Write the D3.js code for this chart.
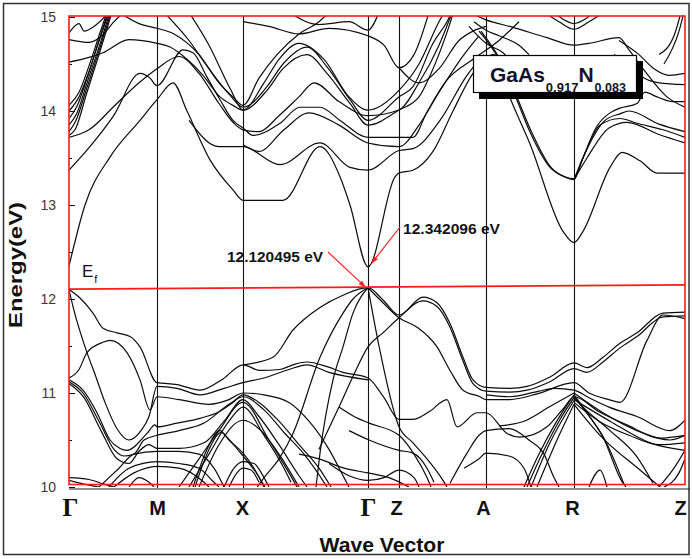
<!DOCTYPE html>
<html><head><meta charset="utf-8">
<script src="https://cdn.jsdelivr.net/npm/d3@7/dist/d3.min.js"></script>
<style>
html,body{margin:0;padding:0;background:#fff;}
svg{display:block;font-family:Arial,"Liberation Sans",sans-serif;}
</style></head>
<body><svg id="c" width="692" height="559"></svg>
<script>
// ---------------- DATA ----------------
const kTicks = [0, 0.88, 1.74, 2.99, 3.30, 4.17, 5.05, 6.16];
const kLabels = ["Γ", "M", "X", "Γ", "Z", "A", "R", "Z"];
const yTicks = [10, 11, 12, 13, 14, 15];
const yMinorTicks = [10.5, 11.5, 12.5, 13.5, 14.5];
const fermiLine = [[0, 12.105], [6.16, 12.15]];
const vbm = {k: 2.99, e: 12.120495, label: "12.120495 eV"};
const cbm = {k: 2.99, e: 12.342096, label: "12.342096 eV"};
const compound = {base1: "GaAs", sub1: "0.917", base2: "N", sub2: "0.083"};

// conduction bands: [k, E(eV)]
const cbBands = [
 [[0,12.35],[0.16,13.0],[0.41,13.51],[0.71,13.9],[0.88,14.12],[1.04,14.3],[1.18,14.0],[1.41,13.48],[1.64,13.16],[1.74,13.05],[2.14,13.05],[2.51,13.62],[2.71,13.3],[2.81,13.0],[2.99,12.342],[3.26,13.3],[3.30,13.34],[3.44,13.37],[3.64,13.57],[3.84,14.0],[4.04,14.4],[4.25,14.6],[4.41,14.14],[4.61,13.65],[4.94,12.72],[5.05,12.6],[5.14,12.72],[5.41,13.4],[5.53,13.56],[5.71,13.47],[5.88,13.34],[6.16,13.34]],
 [[0,13.37],[0.24,13.66],[0.44,13.94],[0.71,14.4],[0.81,14.35],[0.88,14.27],[1.14,14.65],[1.24,14.62],[1.38,14.36],[1.51,14.12],[1.64,13.9],[1.74,13.82],[1.84,13.74],[2.11,13.87],[2.31,14.04],[2.51,14.04],[2.71,13.9],[2.99,13.72],[3.30,13.72],[3.44,13.72],[3.58,13.99],[3.78,14.33],[4.04,14.55],[4.3,14.75],[4.5,14.95]],
 [[0,13.72],[0.2,13.8],[0.45,14.05],[0.7,14.3],[0.88,14.45],[1.1,14.58],[1.3,14.4],[1.5,14.08],[1.64,13.88],[1.74,13.8],[1.9,13.78],[2.1,13.95],[2.3,14.15],[2.45,14.3],[2.7,14.1],[2.99,13.95],[3.3,14.01],[3.5,14.3],[3.7,14.7],[3.85,15.1]],
 [[0,13.74],[0.06,13.8],[0.18,14.2],[0.3,14.6],[0.43,15.05]],
 [[0,13.78],[0.07,13.9],[0.18,14.25],[0.3,14.64],[0.42,15.05]],
 [[0,13.85],[0.08,13.98],[0.18,14.3],[0.3,14.68],[0.41,15.05]],
 [[0,13.92],[0.08,14.05],[0.18,14.35],[0.28,14.68],[0.4,15.05]],
 [[0,14.0],[0.1,14.15],[0.2,14.42],[0.3,14.75],[0.39,15.05]],
 [[0,14.06],[0.1,14.2],[0.2,14.48],[0.3,14.8],[0.38,15.05]],
 [[0,14.52],[0.2,14.57],[0.34,14.62],[0.6,14.76],[0.88,14.72],[1.01,14.68],[1.18,14.55],[1.34,14.38],[1.51,14.15],[1.64,14.06],[1.74,14.01],[1.98,14.22],[2.14,14.45],[2.38,14.6],[2.58,14.4],[2.81,14.08],[2.99,13.85],[3.3,14.01],[3.5,14.15],[3.62,14.4],[3.8,14.9],[3.86,15.1]],
 [[0,14.83],[0.1,14.93],[0.15,14.85],[0.25,14.9],[0.4,15.05]],
 [[0,14.76],[0.2,14.73],[0.33,14.8],[0.45,14.95],[0.55,15.05]],
 [[0.5,15.05],[0.7,14.93],[0.88,14.88],[1.05,14.82],[1.3,14.6],[1.5,14.3],[1.64,14.15],[1.74,14.06],[1.9,14.35],[2.08,14.6],[2.3,14.82],[2.5,14.95],[2.6,15.05]],
 [[0.95,15.05],[1.2,14.75],[1.4,14.45],[1.6,14.18],[1.74,14.04],[1.98,14.26],[2.14,14.5],[2.38,14.68],[2.58,14.47],[2.81,14.12],[2.99,13.9],[3.3,14.15],[3.44,14.26],[3.64,14.72],[3.78,14.95],[3.85,15.1]],
 [[1.2,15.05],[1.4,14.7],[1.62,14.22],[1.74,14.01],[1.95,14.3],[2.1,14.55],[2.3,14.72],[2.55,14.55],[2.8,14.15],[2.99,14.01],[3.3,14.22],[3.5,14.5],[3.7,14.95],[3.78,15.1]],
 [[1.74,14.95],[2.0,14.9],[2.3,14.82],[2.6,14.88],[2.99,14.8],[3.15,14.7],[3.3,14.46],[3.45,14.6],[3.6,15.05]],
 [[2.2,15.05],[2.5,14.92],[2.8,14.95],[2.99,14.86],[3.1,15.05]],
 [[1.2,13.9],[1.5,13.62],[1.74,13.62],[2.11,13.43],[2.51,13.66],[2.81,13.4],[2.99,13.37],[3.3,13.58],[3.44,13.6],[3.71,13.9],[3.98,14.38],[4.15,14.6]],
 [[1.74,13.64],[1.9,13.57],[2.15,13.8],[2.4,13.98],[2.7,13.85],[2.99,13.66],[3.3,13.62],[3.5,13.85],[3.7,14.2],[3.95,14.6],[4.1,14.8]],
 [[4.0,15.05],[4.17,14.97],[4.44,14.89],[4.78,14.78],[5.05,14.7],[5.2,14.72],[5.5,14.78],[5.6,14.65],[5.74,14.45],[5.98,14.15],[6.16,14.04]],
 [[4.0,14.9],[4.17,14.72],[4.34,14.62],[4.45,14.5]],
 [[4.05,14.95],[4.17,14.86],[4.3,14.8],[4.5,14.7],[4.6,14.6]],
 [[4.75,15.05],[4.9,14.95],[5.05,14.87],[5.2,14.95],[5.35,15.05]],
 [[4.85,15.05],[4.95,14.97],[5.05,14.93],[5.15,14.97],[5.25,15.05]],
 [[4.1,14.85],[4.3,14.55],[4.47,14.14],[4.6,13.8],[4.81,13.4],[4.95,13.3],[5.05,13.27],[5.12,13.45],[5.28,13.84],[5.41,13.98],[5.51,14.03],[5.68,14.08],[5.76,14.2],[5.88,14.15],[6.04,14.1],[6.16,14.1]],
 [[4.12,14.85],[4.32,14.53],[4.49,14.12],[4.62,13.79],[4.82,13.4],[4.96,13.3],[5.05,13.28],[5.14,13.5],[5.31,13.85],[5.51,13.92],[5.68,13.87],[5.94,13.8],[6.16,13.72]],
 [[5.05,13.27],[5.16,13.55],[5.36,13.9],[5.51,13.97],[5.6,14.0],[5.9,13.86],[6.16,13.78]],
 [[5.05,13.27],[5.18,13.5],[5.4,13.82],[5.58,13.88],[5.9,13.75],[6.16,13.66]],
 [[5.45,14.6],[5.6,14.5],[5.75,14.35],[5.9,14.3],[6.16,14.28]],
 [[5.5,14.75],[5.7,14.6],[5.85,14.45],[6.0,14.38],[6.16,14.4]],
 [[5.9,14.6],[6.05,14.8],[6.12,15.05]],
 [[5.95,14.5],[6.1,14.85],[6.15,15.05]],
 [[3.3,14.46],[3.5,14.3],[3.7,14.45],[3.9,14.75],[4.04,14.85],[4.17,14.9]]
];

// valence bands: [k, E(eV)]
const vbBands = [
 [[1.74,11.3],[2.04,11.38],[2.24,11.67],[2.51,11.91],[2.74,12.04],[2.99,12.12],[3.14,11.99],[3.30,11.83],[3.54,12.02],[3.68,11.96],[3.81,11.74],[3.94,11.38],[4.04,11.14],[4.17,11.06],[4.41,11.05],[4.58,11.07],[4.81,11.17],[5.05,11.32],[5.18,11.27],[5.34,11.38],[5.51,11.53],[5.68,11.64],[5.94,11.85],[6.16,11.86]],
 [[2.5,10.4],[2.7,10.85],[2.85,11.2],[2.99,11.49],[3.15,11.65],[3.30,11.8],[3.54,11.98],[3.68,11.92],[3.81,11.7],[3.94,11.34],[4.04,11.1],[4.17,11.02],[4.41,11.01],[4.58,11.03],[4.81,11.12],[5.05,11.26],[5.18,11.22],[5.34,11.33],[5.51,11.48],[5.68,11.6],[5.94,11.81],[6.16,11.82]],
 [[2.99,12.12],[3.14,11.96],[3.30,11.8],[3.48,11.7],[3.68,11.49],[3.81,11.24],[3.94,11.03],[4.11,10.96],[4.17,10.93],[4.41,10.93],[4.68,10.99],[5.05,11.11],[5.2,11.0],[5.4,10.93],[5.51,10.9],[5.78,11.56],[5.94,11.83],[6.16,11.79]],
 [[0,12.1],[0.11,12.01],[0.24,11.85],[0.34,11.69],[0.48,11.64],[0.61,11.6],[0.71,11.49],[0.88,11.11],[1.08,11.09],[1.31,11.03],[1.54,11.15],[1.74,11.3],[1.91,11.24],[2.11,11.25],[2.24,11.3],[2.38,11.33],[2.58,11.28],[2.74,11.22],[2.99,11.16],[3.15,10.95],[3.3,10.72],[3.44,10.72],[3.6,10.8],[3.78,10.93],[3.88,10.64],[4.08,10.79],[4.17,10.79],[4.38,10.57],[4.51,10.53],[4.78,10.64],[4.94,10.83],[5.05,10.96],[5.3,10.8],[5.6,10.65],[5.9,10.52],[6.16,10.55]],
 [[0,12.1],[0.04,11.92],[0.18,11.43],[0.26,11.2],[0.36,10.9],[0.48,10.62],[0.6,10.5],[0.72,10.6],[0.8,10.75],[0.88,11.07],[1.08,11.05],[1.31,10.98],[1.55,11.05],[1.74,11.11],[1.95,11.16],[2.2,11.25],[2.38,11.3],[2.6,11.22],[2.99,11.14]],
 [[0,11.16],[0.1,11.25],[0.18,11.43],[0.34,11.54],[0.41,11.56],[0.58,11.43],[0.71,11.14],[0.81,10.82],[0.88,10.96],[1.1,10.93],[1.4,10.88],[1.6,10.93],[1.74,11.0],[1.95,10.98],[2.2,10.9],[2.4,10.7],[2.6,10.4],[2.75,10.1],[2.8,10.0]],
 [[0,11.14],[0.14,11.03],[0.28,10.79],[0.41,10.5],[0.51,10.41],[0.58,10.39],[0.78,10.57],[0.86,10.66],[0.88,10.64],[1.08,10.68],[1.31,10.73],[1.5,10.8],[1.64,10.9],[1.74,10.98],[1.9,10.9],[2.1,10.7],[2.3,10.45],[2.5,10.2],[2.62,10.0]],
 [[0,11.12],[0.14,11.0],[0.3,10.7],[0.45,10.4],[0.55,10.33],[0.65,10.35],[0.75,10.5],[0.88,10.55],[1.1,10.6],[1.35,10.68],[1.6,10.88],[1.74,10.96],[1.95,10.82],[2.15,10.58],[2.35,10.35],[2.55,10.05],[2.58,10.0]],
 [[0,11.1],[0.15,10.95],[0.32,10.6],[0.48,10.3],[0.6,10.25],[0.7,10.38],[0.8,10.45],[0.88,10.41],[1.1,10.41],[1.35,10.47],[1.55,10.7],[1.74,10.93],[1.9,10.75],[2.1,10.45],[2.3,10.12],[2.38,10.0]],
 [[1.1,10.0],[1.3,10.3],[1.5,10.6],[1.74,10.9],[2.0,10.5],[2.2,10.15],[2.28,10.0]],
 [[1.2,10.0],[1.4,10.35],[1.6,10.7],[1.74,10.85],[1.95,10.55],[2.15,10.2],[2.22,10.05]],
 [[1.3,10.0],[1.5,10.45],[1.74,10.71],[1.9,10.62],[2.1,10.35],[2.3,10.0]],
 [[1.24,10.0],[1.38,10.4],[1.51,10.6],[1.6,10.5],[1.74,10.36],[1.85,10.2],[1.95,10.0]],
 [[1.26,10.0],[1.4,10.4],[1.52,10.58],[1.62,10.48],[1.74,10.33],[1.86,10.17],[1.96,10.0]],
 [[1.55,10.0],[1.65,10.2],[1.74,10.27],[1.85,10.25],[1.95,10.1],[2.0,10.0]],
 [[1.6,10.0],[1.68,10.15],[1.74,10.2],[1.82,10.18],[1.9,10.05]],
 [[0.3,10.0],[0.5,10.2],[0.65,10.35],[0.88,10.38],[1.1,10.38],[1.3,10.35],[1.45,10.2],[1.55,10.0]],
 [[0.4,10.0],[0.6,10.2],[0.88,10.27],[1.1,10.25],[1.3,10.2],[1.45,10.05],[1.5,10.0]],
 [[0.45,10.0],[0.65,10.15],[0.88,10.22],[1.1,10.2],[1.35,10.05],[1.4,10.0]],
 [[0,10.1],[0.2,10.08],[0.35,10.03],[0.45,10.0]],
 [[0,10.07],[0.15,10.03],[0.3,10.0]],
 [[0.6,10.0],[0.7,10.1],[0.8,10.05],[0.85,10.0]],
 [[1.85,9.95],[1.95,10.1],[2.1,10.3],[2.24,10.57],[2.51,11.38],[2.74,11.85],[2.84,12.0],[2.99,12.12]],
 [[2.47,10.0],[2.51,10.36],[2.64,11.14],[2.74,11.49],[2.84,11.85],[2.99,12.12]],
 [[2.99,12.12],[3.1,11.5],[3.30,10.64],[3.44,10.47],[3.61,10.26],[3.74,10.07],[3.78,10.0]],
 [[2.7,10.85],[2.85,10.75],[3.0,10.68],[3.30,10.55],[3.45,10.35],[3.58,10.1],[3.62,10.0]],
 [[2.8,10.6],[3.0,10.5],[3.30,10.39],[3.44,10.36],[3.58,10.2],[3.65,10.05]],
 [[2.3,10.35],[2.5,10.3],[2.75,10.2],[2.99,10.15],[3.2,10.1],[3.4,10.0]],
 [[2.6,10.25],[2.8,10.12],[2.99,10.07],[3.15,10.1],[3.3,10.18],[3.45,10.1],[3.5,10.0]],
 [[3.81,10.04],[3.98,10.36],[4.1,10.55],[4.17,10.6],[4.4,10.62],[4.6,10.5],[4.75,10.35],[4.85,10.1],[4.9,10.0]],
 [[4.17,10.98],[4.41,10.96],[4.7,11.02],[4.85,11.05],[5.05,11.03],[5.2,10.95],[5.4,10.85],[5.68,10.75],[6.01,10.6],[6.16,10.71]],
 [[3.95,10.2],[4.1,10.3],[4.17,10.36],[4.4,10.33],[4.55,10.2],[4.62,10.0]],
 [[4.55,10.0],[4.7,10.35],[4.85,10.65],[5.05,10.98]],
 [[4.58,10.0],[4.73,10.35],[4.9,10.7],[5.05,10.95]],
 [[4.62,10.0],[4.8,10.45],[5.05,10.92]],
 [[4.68,10.0],[4.88,10.5],[5.05,10.88]],
 [[4.3,10.65],[4.55,10.7],[4.8,10.85],[5.05,11.0]],
 [[5.05,10.98],[5.18,10.79],[5.34,10.53],[5.54,10.04],[5.57,10.0]],
 [[5.05,10.96],[5.19,10.77],[5.36,10.5],[5.55,10.03]],
 [[5.05,10.95],[5.14,10.85],[5.41,10.6],[5.68,10.32],[5.84,10.04]],
 [[5.05,11.0],[5.34,10.79],[5.68,10.6],[6.01,10.5],[6.16,10.55]],
 [[5.05,10.93],[5.41,10.7],[5.81,10.47],[6.16,10.39]],
 [[5.05,10.88],[5.31,10.55],[5.71,10.18],[5.91,10.0]],
 [[5.05,10.9],[5.3,10.7],[5.6,10.55],[5.9,10.45],[6.16,10.47]],
 [[5.2,10.0],[5.31,10.18],[5.38,10.0]],
 [[5.9,10.0],[6.05,10.2],[6.16,10.39]],
 [[5.95,10.0],[6.1,10.15],[6.16,10.3]]
];

// ---------------- LAYOUT ----------------
const W = 692, H = 559;
const P = {left: 69, right: 685, top: 17, bottom: 487};
const labelNudge = [1, 0, -1, 0, -3, -3, -2, -5];

const svg = d3.select("#c");
const x = d3.scaleLinear().domain([0, 6.16]).range([P.left, P.right]);
const y = d3.scaleLinear().domain([10, 15]).range([P.bottom, P.top]);

// outer border
svg.append("rect").attr("x", 3.5).attr("y", 3.5).attr("width", 685.5).attr("height", 551)
  .attr("fill", "#fff").attr("stroke", "#333").attr("stroke-width", 1.5);

const defs = svg.append("defs");
defs.append("clipPath").attr("id", "clip").append("rect")
  .attr("x", P.left).attr("y", P.top - 1).attr("width", P.right - P.left).attr("height", P.bottom - P.top + 1);
defs.append("marker").attr("id", "arr").attr("viewBox", "0 0 10 10").attr("refX", 9).attr("refY", 5)
  .attr("markerWidth", 8).attr("markerHeight", 7).attr("orient", "auto-start-reverse")
  .attr("markerUnits", "userSpaceOnUse")
  .append("path").attr("d", "M0,1.5 L10,5 L0,8.5 Z").attr("fill", "#ff2020");

// high-symmetry vertical lines
svg.append("g").selectAll("line").data(kTicks.slice(1, -1)).join("line")
  .attr("x1", d => Math.round(x(d)) + 0.5).attr("x2", d => Math.round(x(d)) + 0.5)
  .attr("y1", P.top - 1).attr("y2", P.bottom + 1)
  .attr("stroke", "#111").attr("stroke-width", 1.1);

// bands
const line = d3.line().x(d => x(d[0])).y(d => y(d[1])).curve(d3.curveMonotoneX);
const bg = svg.append("g").attr("clip-path", "url(#clip)");
bg.selectAll("path.cb").data(cbBands).join("path").attr("class", "cb")
  .attr("d", line).attr("fill", "none").attr("stroke", "#0c0c0c").attr("stroke-width", 1.2);
bg.selectAll("path.vb").data(vbBands).join("path").attr("class", "vb")
  .attr("d", line).attr("fill", "none").attr("stroke", "#0c0c0c").attr("stroke-width", 1.2);

// x axis (black baseline) with labels
const xAxis = d3.axisBottom(x).tickValues(kTicks).tickFormat((d, i) => kLabels[i])
  .tickSize(0).tickSizeOuter(0).tickPadding(12);
const gx = svg.append("g").attr("transform", `translate(0,${P.bottom + 1.5})`).call(xAxis);
gx.select(".domain").attr("stroke", "#222").attr("stroke-width", 1.2)
  .attr("d", `M${P.left},0.5H${P.right + 5}`);
gx.selectAll(".tick text")
  .attr("dx", (d, i) => labelNudge[i])
  .attr("fill", "#111")
  .style("font-weight", "bold")
  .style("font-family", (d, i) => kLabels[i] === "Γ" ? "'Liberation Serif','Times New Roman',serif" : "Arial,'Liberation Sans',sans-serif")
  .style("font-size", (d, i) => kLabels[i] === "Γ" ? "25px" : "20px")
  .attr("y", (d, i) => kLabels[i] === "Γ" ? 10 : 12);

// y axis
const yAxis = d3.axisLeft(y).tickValues(yTicks).tickSize(-6).tickPadding(13).tickFormat(d3.format("d"));
const gy = svg.append("g").attr("transform", `translate(${P.left},0)`).call(yAxis);
gy.select(".domain").remove();
gy.selectAll(".tick line").attr("stroke", "#111");
gy.selectAll(".tick text").attr("fill", "#3a3a3a").style("font-size", "14px");
const yMinor = d3.axisLeft(y).tickValues(yMinorTicks).tickSize(-3).tickFormat("");
const gym = svg.append("g").attr("transform", `translate(${P.left},0)`).call(yMinor);
gym.select(".domain").remove();
gym.selectAll(".tick line").attr("stroke", "#111");

// red frame
svg.append("rect").attr("x", P.left).attr("y", P.top - 1).attr("width", P.right - P.left)
  .attr("height", P.bottom - P.top - 1.5).attr("fill", "none").attr("stroke", "#ff1a1a").attr("stroke-width", 1.6);

// Fermi level
svg.append("path").datum(fermiLine).attr("d", d3.line().x(d => x(d[0])).y(d => y(d[1])))
  .attr("stroke", "#ff1a1a").attr("stroke-width", 1.6).attr("fill", "none");
const ef = svg.append("text").attr("x", x(0) + 13).attr("y", y(fermiLine[0][1]) - 12)
  .attr("fill", "#111").style("font-size", "17px");
ef.append("tspan").text("E");
ef.append("tspan").attr("dy", 6).attr("dx", 1).style("font-size", "11px").text("f");

// annotations
const ann = svg.append("g");
ann.append("line").attr("x1", 328).attr("y1", 252)
  .attr("x2", x(vbm.k) - 3).attr("y2", y(vbm.e) - 1)
  .attr("stroke", "#ff2020").attr("stroke-width", 1.2).attr("marker-end", "url(#arr)");
ann.append("text").attr("x", 227).attr("y", 262).text(vbm.label)
  .attr("fill", "#141414").style("font-size", "15.5px").style("font-weight", "bold")
  .attr("textLength", 96).attr("lengthAdjust", "spacingAndGlyphs");
ann.append("line").attr("x1", 400).attr("y1", 227)
  .attr("x2", x(cbm.k) + 4).attr("y2", y(cbm.e) - 4)
  .attr("stroke", "#ff2020").attr("stroke-width", 1.2).attr("marker-end", "url(#arr)");
ann.append("text").attr("x", 403).attr("y", 234).text(cbm.label)
  .attr("fill", "#141414").style("font-size", "15.5px").style("font-weight", "bold")
  .attr("textLength", 97).attr("lengthAdjust", "spacingAndGlyphs");

// legend box with shadow
const lg = svg.append("g");
lg.append("rect").attr("x", 479).attr("y", 61).attr("width", 164).attr("height", 38).attr("fill", "#000");
lg.append("rect").attr("x", 473.5).attr("y", 55.5).attr("width", 163).attr("height", 37)
  .attr("fill", "#fff").attr("stroke", "#000").attr("stroke-width", 1.2);
const lt = lg.append("text").attr("x", 490).attr("y", 82).attr("fill", "#12122a").style("font-weight", "bold");
lt.append("tspan").style("font-size", "21px").text(compound.base1);
lt.append("tspan").attr("dy", 10).attr("dx", 1).style("font-size", "13px").text(compound.sub1);
lt.append("tspan").attr("dy", -10).style("font-size", "21px").text(compound.base2);
lt.append("tspan").attr("dy", 10).attr("dx", 1).style("font-size", "12.5px").text(compound.sub2);

// axis titles
svg.append("text").attr("x", 382).attr("y", 552).attr("text-anchor", "middle")
  .attr("fill", "#111").style("font-size", "20px").style("font-weight", "bold")
  .attr("textLength", 125).attr("lengthAdjust", "spacingAndGlyphs").text("Wave Vector");
svg.append("text").attr("transform", "translate(22,265) rotate(-90)").attr("text-anchor", "middle")
  .attr("fill", "#111").style("font-size", "19px").style("font-weight", "bold")
  .attr("textLength", 126).attr("lengthAdjust", "spacingAndGlyphs").text("Energy(eV)");
</script></body></html>
